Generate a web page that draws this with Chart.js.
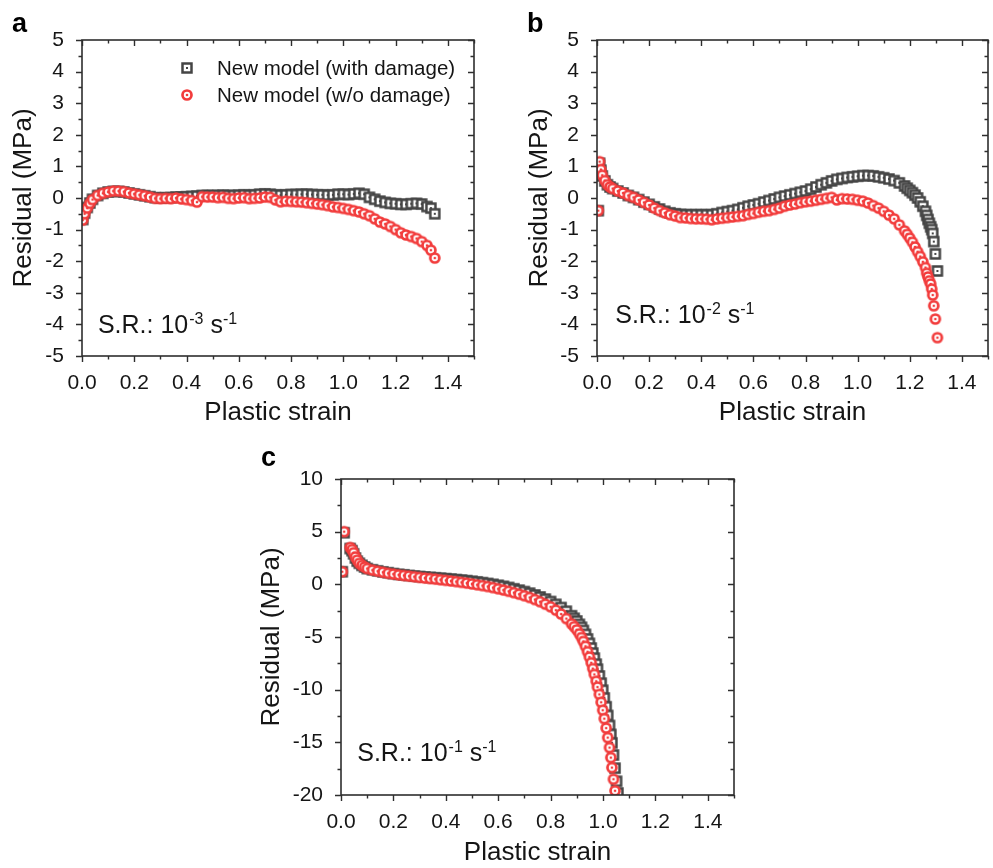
<!DOCTYPE html>
<html>
<head>
<meta charset="utf-8">
<title>Residual vs plastic strain</title>
<script src="https://cdn.jsdelivr.net/npm/chart.js@4.4.1/dist/chart.umd.min.js"></script>
<style>
  html, body { margin: 0; padding: 0; background: #fff; }
  #wrap { position: relative; width: 993px; height: 868px; overflow: hidden; }
  #wrap canvas { position: absolute; }
</style>
</head>
<body>
<div id="wrap">
  <canvas id="chart-a" style="left:0;top:0" width="490" height="430"></canvas>
  <canvas id="chart-b" style="left:490px;top:0" width="503" height="430"></canvas>
  <canvas id="chart-c" style="left:250px;top:440px" width="500" height="428"></canvas>
</div>
<script>
// ---- data ----
var seriesNames = ['New model (with damage)', 'New model (w/o damage)'];

var xTicks = [0, 0.2, 0.4, 0.6, 0.8, 1.0, 1.2, 1.4];
var yTicksAB = [-5, -4, -3, -2, -1, 0, 1, 2, 3, 4, 5];
var yTicksC = [-20, -15, -10, -5, 0, 5, 10];

// a : S.R. 1e-3
var strainA = [
  0.003, 0.01, 0.02, 0.03, 0.04, 0.06, 0.08, 0.10, 0.12, 0.14,
  0.16, 0.18, 0.20, 0.22, 0.24, 0.26, 0.28, 0.30, 0.32, 0.34,
  0.36, 0.38, 0.40, 0.42, 0.44, 0.46, 0.48, 0.50, 0.52, 0.54,
  0.56, 0.58, 0.60, 0.62, 0.64, 0.66, 0.68, 0.70, 0.72, 0.74,
  0.76, 0.78, 0.80, 0.82, 0.84, 0.86, 0.88, 0.90, 0.92, 0.94,
  0.96, 0.98, 1.00, 1.02, 1.04, 1.06, 1.08, 1.10, 1.12, 1.14,
  1.16, 1.18, 1.20, 1.22, 1.24, 1.26, 1.28, 1.30, 1.32, 1.335,
  1.35
];
var damageA = [
  -0.68, -0.48, -0.30, -0.16, -0.04, 0.08, 0.15, 0.19, 0.21, 0.21,
  0.19, 0.16, 0.13, 0.10, 0.07, 0.04, 0.01, 0.00, 0.01, 0.01,
  0.03, 0.03, 0.04, 0.05, 0.06, 0.08, 0.08, 0.08, 0.08, 0.09,
  0.08, 0.08, 0.09, 0.10, 0.09, 0.10, 0.12, 0.13, 0.12, 0.10,
  0.09, 0.10, 0.11, 0.11, 0.12, 0.12, 0.11, 0.10, 0.10, 0.09,
  0.10, 0.12, 0.12, 0.11, 0.13, 0.15, 0.12, 0.02, -0.04, -0.10,
  -0.14, -0.17, -0.18, -0.20, -0.20, -0.18, -0.17, -0.19, -0.27, -0.32,
  -0.50
];
var noDamageA = [
  -0.70, -0.50, -0.32, -0.17, -0.05, 0.08, 0.15, 0.19, 0.22, 0.22,
  0.20, 0.16, 0.13, 0.10, 0.07, 0.03, -0.01, -0.02, -0.01, -0.02,
  0.00, -0.03, -0.05, -0.08, -0.13, 0.04, 0.03, 0.03, 0.01, 0.02,
  -0.01, -0.02, 0.00, 0.01, -0.02, -0.01, 0.00, 0.03, 0.02, -0.06,
  -0.12, -0.10, -0.11, -0.12, -0.13, -0.15, -0.17, -0.19, -0.21, -0.24,
  -0.28, -0.30, -0.33, -0.36, -0.40, -0.44, -0.50, -0.56, -0.66, -0.76,
  -0.82, -0.90, -1.00, -1.10, -1.17, -1.22, -1.28, -1.38, -1.50, -1.65,
  -1.90
];

// b : S.R. 1e-2
var strainB = [
  0.005, 0.01, 0.015, 0.02, 0.03, 0.04, 0.05, 0.06, 0.08, 0.10,
  0.12, 0.14, 0.16, 0.18, 0.20, 0.22, 0.24, 0.26, 0.28, 0.30,
  0.32, 0.34, 0.36, 0.38, 0.40, 0.42, 0.44, 0.46, 0.48, 0.50,
  0.52, 0.54, 0.56, 0.58, 0.60, 0.62, 0.64, 0.66, 0.68, 0.70,
  0.72, 0.74, 0.76, 0.78, 0.80, 0.82, 0.84, 0.86, 0.88, 0.90,
  0.92, 0.94, 0.96, 0.98, 1.00, 1.02, 1.04, 1.06, 1.08, 1.10,
  1.12, 1.14, 1.16, 1.18, 1.19, 1.20, 1.21, 1.22, 1.23, 1.24,
  1.25, 1.26, 1.265, 1.27, 1.275, 1.28, 1.284, 1.288, 1.292, 1.298,
  1.306
];
var damageB = [
  -0.40, 1.10, 0.88, 0.70, 0.54, 0.42, 0.35, 0.30, 0.22, 0.16,
  0.08, 0.02, -0.05, -0.13, -0.20, -0.28, -0.35, -0.42, -0.47, -0.50,
  -0.52, -0.53, -0.53, -0.53, -0.53, -0.53, -0.53, -0.50, -0.46, -0.43,
  -0.40, -0.36, -0.31, -0.26, -0.22, -0.18, -0.13, -0.08, -0.03, 0.02,
  0.06, 0.10, 0.14, 0.18, 0.22, 0.28, 0.35, 0.42, 0.48, 0.54,
  0.59, 0.62, 0.65, 0.67, 0.69, 0.71, 0.71, 0.70, 0.67, 0.64,
  0.60, 0.55, 0.48, 0.38, 0.31, 0.24, 0.17, 0.09, 0.00, -0.12,
  -0.26, -0.42, -0.55, -0.68, -0.80, -0.91, -1.00, -1.12, -1.38, -1.77,
  -2.31
];
var noDamageB = [
  -0.40, 1.15, 0.90, 0.72, 0.55, 0.42, 0.35, 0.30, 0.22, 0.16,
  0.08, 0.02, -0.06, -0.14, -0.22, -0.32, -0.40, -0.47, -0.53, -0.57,
  -0.62, -0.63, -0.65, -0.66, -0.66, -0.67, -0.69, -0.66, -0.64, -0.62,
  -0.60, -0.58, -0.56, -0.52, -0.49, -0.45, -0.42, -0.40, -0.36, -0.32,
  -0.26, -0.22, -0.19, -0.15, -0.12, -0.10, -0.07, -0.04, -0.01, 0.02,
  -0.06, -0.02, -0.03, -0.04, -0.07, -0.10, -0.16, -0.24, -0.32, -0.42,
  -0.54, -0.66, -0.85, -1.04, -1.15, -1.27, -1.40, -1.55, -1.70, -1.85,
  -2.02, -2.20, -2.38, -2.50, -2.62, -2.72, -2.88, -3.07, -3.41, -3.83,
  -4.42
];

// c : S.R. 1e-1
var strainC = [
  0.005, 0.012, 0.035, 0.042, 0.048, 0.055, 0.062, 0.07, 0.08, 0.09,
  0.10, 0.12, 0.14, 0.16, 0.18, 0.20, 0.22, 0.24, 0.26, 0.28,
  0.30, 0.32, 0.34, 0.36, 0.38, 0.40, 0.42, 0.44, 0.46, 0.48,
  0.50, 0.52, 0.54, 0.56, 0.58, 0.60, 0.62, 0.64, 0.66, 0.68,
  0.70, 0.72, 0.74, 0.76, 0.78, 0.80, 0.82, 0.84, 0.86, 0.88,
  0.89, 0.90, 0.910, 0.918, 0.925, 0.933, 0.941, 0.948, 0.955, 0.961,
  0.967, 0.974, 0.979, 0.986, 0.993, 0.999, 1.005, 1.012, 1.018, 1.025,
  1.030, 1.034, 1.040, 1.046, 1.052, 1.057
];
var damageC = [
  1.2, 4.9, 3.4, 3.2, 2.9, 2.5, 2.2, 2.0, 1.8, 1.65,
  1.5, 1.38, 1.28, 1.18, 1.10, 1.02, 0.95, 0.90, 0.84, 0.79,
  0.74, 0.70, 0.66, 0.62, 0.58, 0.54, 0.50, 0.45, 0.40, 0.35,
  0.29, 0.23, 0.16, 0.08, 0.00, -0.09, -0.19, -0.30, -0.42, -0.55,
  -0.69, -0.84, -1.01, -1.20, -1.40, -1.63, -1.90, -2.20, -2.55, -2.98,
  -3.22, -3.48, -3.80, -4.08, -4.38, -4.75, -5.18, -5.60, -6.05, -6.52,
  -7.00, -7.58, -8.05, -8.70, -9.38, -10.05, -10.78, -11.62, -12.45, -13.40,
  -14.25, -15.05, -16.20, -17.45, -18.70, -19.80
];
var noDamageC = [
  1.2, 5.0, 3.5, 3.3, 3.0, 2.6, 2.3, 2.0, 1.8, 1.65,
  1.5, 1.35, 1.25, 1.15, 1.05, 0.98, 0.90, 0.84, 0.78, 0.72,
  0.66, 0.60, 0.55, 0.50, 0.44, 0.38, 0.32, 0.26, 0.19, 0.12,
  0.04, -0.04, -0.12, -0.21, -0.31, -0.42, -0.54, -0.66, -0.79, -0.93,
  -1.08, -1.25, -1.44, -1.65, -1.88, -2.13, -2.45, -2.82, -3.25, -3.75,
  -4.02, -4.32, -4.70, -5.05, -5.42, -5.88, -6.40, -6.90, -7.45, -8.00,
  -8.55, -9.20, -9.75, -10.45, -11.20, -11.95, -12.75, -13.65, -14.55, -15.50,
  -16.45, -17.40, -18.50, -19.60, null, null
];

// ---- styling ----
var FONT = "'Liberation Sans', Arial, Helvetica, sans-serif";
var INK = '#151515';
var AXIS = '#2e2e2e';
var GREY = '#454545';
var RED = '#f23c3c';

function circleMarker(color) {
  var c = document.createElement('canvas');
  c.width = 14; c.height = 14;
  var g = c.getContext('2d');
  g.beginPath(); g.arc(7, 7, 4.5, 0, Math.PI * 2);
  g.fillStyle = '#fff'; g.fill();
  g.lineWidth = 2.7; g.strokeStyle = color; g.stroke();
  g.beginPath(); g.arc(7, 7, 1.3, 0, Math.PI * 2);
  g.fillStyle = color; g.fill();
  return c;
}
function squareMarker(color) {
  var c = document.createElement('canvas');
  c.width = 14; c.height = 14;
  var g = c.getContext('2d');
  g.fillStyle = '#fff'; g.fillRect(2.5, 2.5, 9, 9);
  g.lineWidth = 2.5; g.strokeStyle = color; g.strokeRect(2.5, 2.5, 9, 9);
  g.fillStyle = color; g.fillRect(6, 6, 2, 2);
  return c;
}
var squareImg = squareMarker(GREY);
var circleImg = circleMarker(RED);

function pairs(xs, ys) {
  return xs.map(function (x, i) { return { x: x, y: ys[i] }; });
}

// box, ticks, legend, note and panel letter, all drawn on top of the points
var framePlugin = {
  id: 'frame',
  afterDatasetsDraw: function (chart, args, opts) {
    var ctx = chart.ctx, a = chart.chartArea;
    var xs = chart.scales.x, ys = chart.scales.y;
    ctx.save();
    ctx.strokeStyle = AXIS;
    ctx.lineWidth = 1.6;
    ctx.strokeRect(a.left, a.top, a.right - a.left, a.bottom - a.top);

    function mids(ticks, max) {
      var out = [];
      for (var i = 0; i < ticks.length; i++) {
        var step = i + 1 < ticks.length ? ticks[i + 1] - ticks[i] : ticks[i] - ticks[i - 1];
        var m = ticks[i] + step / 2;
        if (m <= max + 1e-9) out.push(m);
      }
      return out;
    }
    var xv = xs.ticks.map(function (t) { return t.value; });
    var yv = ys.ticks.map(function (t) { return t.value; });
    ctx.lineWidth = 1.4;
    ctx.beginPath();
    function xTick(v, len) {
      var p = Math.round(xs.getPixelForValue(v)) + 0.5;
      ctx.moveTo(p, a.bottom); ctx.lineTo(p, a.bottom + len);
      ctx.moveTo(p, a.top); ctx.lineTo(p, a.top + len);
    }
    function yTick(v, len) {
      var p = Math.round(ys.getPixelForValue(v)) + 0.5;
      ctx.moveTo(a.left - len, p); ctx.lineTo(a.left, p);
      ctx.moveTo(a.right - len, p); ctx.lineTo(a.right, p);
    }
    xv.forEach(function (v) { xTick(v, 6); });
    mids(xv, xs.max).forEach(function (v) { xTick(v, 3.5); });
    yv.forEach(function (v) { yTick(v, 6); });
    mids(yv, ys.max).forEach(function (v) { yTick(v, 3.5); });
    ctx.stroke();

    // strain-rate note
    if (opts.note) {
      var nx = xs.getPixelForValue(opts.note.x);
      var ny = ys.getPixelForValue(opts.note.y);
      ctx.fillStyle = INK;
      ctx.textBaseline = 'alphabetic';
      ctx.textAlign = 'left';
      ctx.font = '25px ' + FONT;
      ctx.fillText('S.R.: 10', nx, ny);
      nx += ctx.measureText('S.R.: 10').width + 1;
      ctx.font = '16px ' + FONT;
      ctx.fillText(opts.note.exp, nx, ny - 9);
      nx += ctx.measureText(opts.note.exp).width;
      ctx.font = '25px ' + FONT;
      ctx.fillText(' s', nx, ny);
      nx += ctx.measureText(' s').width;
      ctx.font = '16px ' + FONT;
      ctx.fillText('-1', nx, ny - 9);
    }

    // legend (panel a only)
    if (opts.legend) {
      var lx = a.left + 105;
      var rows = [a.top + 28, a.top + 55];
      chart.data.datasets.forEach(function (ds, i) {
        var img = ds.pointStyle;
        ctx.drawImage(img, lx - img.width / 2, rows[i] - img.height / 2);
        ctx.fillStyle = INK;
        ctx.font = '20.5px ' + FONT;
        ctx.textBaseline = 'middle';
        ctx.textAlign = 'left';
        ctx.fillText(ds.label, lx + 30, rows[i] + 1);
      });
    }

    // panel letter
    if (opts.letter) {
      ctx.fillStyle = '#000';
      ctx.font = 'bold 27px ' + FONT;
      ctx.textBaseline = 'alphabetic';
      ctx.textAlign = 'left';
      ctx.fillText(opts.letter.text, opts.letter.x, opts.letter.y);
    }
    ctx.restore();
  }
};

function makePanel(id, p) {
  return new Chart(document.getElementById(id), {
    type: 'scatter',
    data: {
      datasets: [{
        label: seriesNames[0],
        data: pairs(p.strain, p.damage),
        pointStyle: squareImg,
        order: 2,
        clip: 0
      }, {
        label: seriesNames[1],
        data: pairs(p.strain, p.noDamage),
        pointStyle: circleImg,
        order: 1,
        clip: 0
      }]
    },
    options: {
      responsive: false,
      animation: false,
      devicePixelRatio: 1,
      layout: { padding: { top: p.top, right: p.right, left: 0, bottom: 0 } },
      plugins: {
        legend: { display: false },
        tooltip: { enabled: false },
        frame: { note: p.note, legend: p.legend, letter: p.letter }
      },
      scales: {
        x: {
          type: 'linear', min: 0, max: 1.5,
          grid: { display: false },
          border: { display: false },
          afterBuildTicks: function (s) { s.ticks = xTicks.map(function (v) { return { value: v }; }); },
          afterFit: function (s) { s.height = p.xAxisH; },
          ticks: {
            padding: 7, color: INK, font: { family: FONT, size: 21 },
            callback: function (v) { return Number(v).toFixed(1); }
          },
          title: {
            display: true, text: 'Plastic strain', color: INK,
            font: { family: FONT, size: 26 }, padding: { top: 0, bottom: p.xTitlePad }
          }
        },
        y: {
          type: 'linear', min: p.yTicks[0], max: p.yTicks[p.yTicks.length - 1],
          grid: { display: false },
          border: { display: false },
          afterBuildTicks: function (s) { s.ticks = p.yTicks.map(function (v) { return { value: v }; }); },
          afterFit: function (s) { s.width = p.yAxisW; },
          ticks: {
            padding: 10, color: INK, font: { family: FONT, size: 21 },
            callback: function (v) { return String(v); }
          },
          title: {
            display: true, text: 'Residual (MPa)', color: INK,
            font: { family: FONT, size: 26 }, padding: { top: p.yTitlePad, bottom: 0 }
          }
        }
      }
    },
    plugins: [framePlugin]
  });
}

makePanel('chart-a', {
  strain: strainA, damage: damageA, noDamage: noDamageA, yTicks: yTicksAB,
  top: 40, right: 16, xAxisH: 74, yAxisW: 82, xTitlePad: 2, yTitlePad: 8,
  note: { x: 0.061, y: -4.27, exp: '-3' }, legend: true,
  letter: { text: 'a', x: 12, y: 32 }
});
makePanel('chart-b', {
  strain: strainB, damage: damageB, noDamage: noDamageB, yTicks: yTicksAB,
  top: 40, right: 3, xAxisH: 74, yAxisW: 107, xTitlePad: 2, yTitlePad: 34,
  note: { x: 0.07, y: -3.96, exp: '-2' }, legend: false,
  letter: { text: 'b', x: 37, y: 32 }
});
makePanel('chart-c', {
  strain: strainC, damage: damageC, noDamage: noDamageC, yTicks: yTicksC,
  top: 39, right: 16, xAxisH: 73, yAxisW: 91, xTitlePad: 0, yTitlePad: 6,
  note: { x: 0.062, y: -16.8, exp: '-1' }, legend: false,
  letter: { text: 'c', x: 11, y: 26 }
});
</script>
</body>
</html>
